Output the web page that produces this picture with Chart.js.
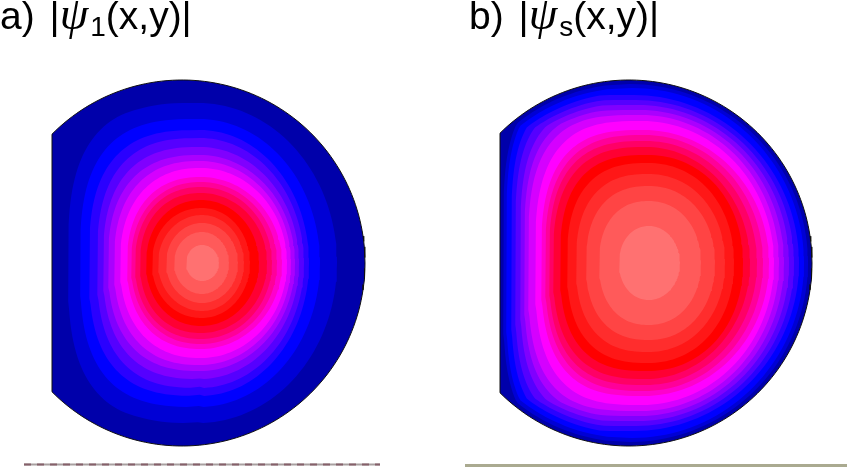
<!DOCTYPE html>
<html>
<head>
<meta charset="utf-8">
<script src="https://cdn.jsdelivr.net/npm/chart.js@4"></script>
<style>
  html, body { margin: 0; padding: 0; background: #fff; overflow: hidden; }
  #wrap { position: relative; width: 847px; height: 467px; }
  canvas { display: block; }
  .title { position: absolute; top: -4px; font: 39px/39px "Liberation Sans", sans-serif; color: #000; white-space: pre; }
  .title .bar { margin-left: 4px; }
  .title i { font-family: "Liberation Serif", serif; font-size: 46px; line-height: 0; }
  .title sub { font-size: 28px; line-height: 0; vertical-align: -7px; margin-left: 2px; }
</style>
</head>
<body>
<div id="wrap">
  <canvas id="chart" width="847" height="467"></canvas>
  <div class="title" style="left:0">a)<span class="bar"> |</span><i>ψ</i><sub>1</sub>(x,y)|</div>
  <div class="title" style="left:469px">b)<span class="bar"> |</span><i>ψ</i><sub>s</sub>(x,y)|</div>
</div>
<script>
// contour colours, outermost to innermost
const levelColors = ['#0000aa', '#0000d5', '#0000ff', '#2a00ff', '#5500ff', '#8000ff', '#aa00ff', '#d500ff', '#ff00ff',
  '#ff00cc', '#ff0099', '#ff0066', '#ff0033', '#ff0000', '#ff1717', '#ff2d2d', '#ff4444', '#ff5a5a', '#ff7171'];

// panel a: where each contour boundary crosses the axes
const aLeft = [68, 80, 89, 97, 103, 108, 114, 120, 127, 131, 135, 140, 146, 152, 158, 166, 174, 186];
const aRight = [337, 320, 309, 304, 299, 295, 291, 287, 282, 277, 272, 267, 259, 250, 244, 238, 229, 219];
const aTop = [103, 119, 130, 138, 147, 155, 161, 168, 177, 182, 187, 193, 200, 208, 215, 223, 232, 245];
const aPeak = [198, 199, 200, 200, 200, 200, 200, 201, 201, 201, 201, 201, 201, 202, 202, 202, 202, 202];
const aSquareL = [3, 2.9, 2.8, 2.7, 2.6, 2.5, 2.4, 2.3, 2.3, 2.2, 2.2, 2.2, 2.1, 2.1, 2, 2, 2, 2];
const aSquareR = [2, 2, 2, 2, 2, 2, 2, 2, 2, 2, 2, 2, 2, 2, 2, 2, 2, 2];

// panel b
const bLeft = [503, 506, 511, 515, 520, 524, 528, 535, 541, 545, 549, 553, 560, 567, 576, 586, 599, 619];
const bRight = [808, 804, 799, 794, 789, 784, 779, 774, 769, 763, 757, 750, 743, 734, 725, 715, 701, 680];
const bTop = [84, 88, 95, 100, 105, 110, 115, 121, 130, 135, 141, 147, 155, 163, 174, 186, 201, 226];
const bPeak = [630, 632, 634, 636, 638, 640, 641, 642, 644, 645, 646, 646, 647, 648, 648, 649, 649, 649];
const bSquareL = [4, 4, 4, 3.8, 3.6, 3.4, 3.2, 3, 2.9, 2.8, 2.8, 2.7, 2.7, 2.6, 2.5, 2.4, 2.3, 2.1];
const bSquareR = [2, 2, 2, 2, 2, 2, 2, 2, 2, 2, 2, 2, 2.1, 2.1, 2.1, 2.1, 2.1, 2];

// D outline: [flat edge x, circle centre x, radius], both panels share midY
const midY = 263;
const aOutline = [52, 182, 183];
const bOutline = [500, 629, 183];

// scraps of the next figure along the bottom edge
const aScrap = [24, 380];
const bScrap = [465, 847];
const scrapY = [464.5, 465.5];

function contour(o, peak, left, right, top, nL, nR) {
  const cx = o[1];
  const limit = Math.max(right - cx, midY - top);
  const pts = [];
  for (let i = 0; i <= 160; i++) {
    const t = i / 160 * 2 * Math.PI;
    const c = Math.cos(t), s = Math.sin(t);
    const n = c < 0 ? nL : nR;
    const rx = c < 0 ? peak - left : right - peak;
    let x = peak + Math.sign(c) * rx * Math.pow(Math.abs(c), 2 / n);
    let y = midY - Math.sign(s) * (midY - top) * Math.pow(Math.abs(s), 2 / n);
    // on the flat side the outer contours still follow the arc
    const d = Math.hypot(x - cx, y - midY);
    if (c < 0 && d > limit) {
      x = cx + (x - cx) * limit / d;
      y = midY + (y - midY) * limit / d;
    }
    pts.push({ x: x, y: y });
  }
  return pts;
}

function outline(o) {
  const [flat, cx, r] = o;
  const start = Math.acos((flat - cx) / r);
  const pts = [];
  for (let i = 0; i <= 160; i++) {
    const t = -start + i / 160 * 2 * start;
    pts.push({ x: cx + r * Math.cos(t), y: midY + r * Math.sin(t) });
  }
  pts.push(pts[0]);
  return pts;
}

function shape(data, color, order, border) {
  return {
    data: data, showLine: true, fill: 'shape', backgroundColor: color,
    borderColor: border || color, borderWidth: border ? 1 : 0,
    pointRadius: 0, tension: 0, order: order
  };
}

function scrap(xs, y, color, width, dash, order) {
  return {
    data: [{ x: xs[0], y: y }, { x: xs[1], y: y }], showLine: true, fill: false,
    borderColor: color, borderWidth: width, borderDash: dash || [], pointRadius: 0, order: order
  };
}

const datasets = [];
[[aOutline, aPeak, aLeft, aRight, aTop, aSquareL, aSquareR, 100],
 [bOutline, bPeak, bLeft, bRight, bTop, bSquareL, bSquareR, 300]].forEach(p => {
  const [o, peak, l, r, top, nL, nR, base] = p;
  datasets.push(shape(outline(o), levelColors[0], base + 50, '#111'));
  l.forEach((v, i) => {
    datasets.push(shape(contour(o, peak[i], v, r[i], top[i], nL[i], nR[i]), levelColors[i + 1], base + 40 - i));
  });
});
datasets.push(scrap(aScrap, scrapY[0], '#a8a0a0', 2, [], 502));
datasets.push(scrap(aScrap, scrapY[0], '#85606a', 2, [7, 6], 501));
datasets.push(scrap(bScrap, scrapY[1], '#aaaa90', 3, [], 500));

new Chart(document.getElementById('chart'), {
  type: 'scatter',
  data: { datasets: datasets },
  options: {
    responsive: false,
    animation: false,
    layout: { padding: 0 },
    plugins: { legend: { display: false }, tooltip: { enabled: false } },
    scales: {
      x: { type: 'linear', min: 0, max: 847, display: false },
      y: { type: 'linear', min: 0, max: 467, reverse: true, display: false }
    }
  }
});
</script>
</body>
</html>
